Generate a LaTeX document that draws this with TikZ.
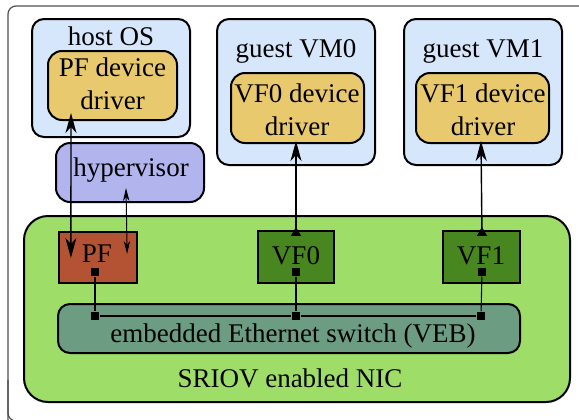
\documentclass[tikz,border=0pt]{standalone}
\usepackage{fontspec}
\setmainfont{Liberation Serif}
\usetikzlibrary{arrows.meta,fit,calc}
\definecolor{osblue}{RGB}{214,230,251}
\definecolor{drvyel}{RGB}{232,201,110}
\definecolor{hyplav}{RGB}{178,180,238}
\definecolor{nicgreen}{RGB}{158,222,104}
\definecolor{pfred}{RGB}{180,83,52}
\definecolor{vfgreen}{RGB}{72,135,32}
\definecolor{vebgreen}{RGB}{108,156,130}
\definecolor{framegray}{RGB}{80,80,80}
\begin{document}
\begin{tikzpicture}[x=0.5pt,y=-0.5pt,
  font=\fontsize{13.5}{16.5}\selectfont,
  box/.style={draw=black, line width=1pt, inner sep=0pt},
  osbox/.style={box, fill=osblue, rounded corners=6pt},
  drvbox/.style={box, fill=drvyel, rounded corners=7pt},
  fnbox/.style={box, line width=1.1pt},
  lbl/.style={inner sep=0pt, align=center},
  sq/.style={fill=black, minimum size=4.2pt, inner sep=0pt},
  wire/.style={line width=0.55pt},
  bus/.style={line width=1.1pt},
  bigtip/.style={line width=0.7pt, {Stealth[length=10pt,width=5.5pt,inset=3pt]}-{Stealth[length=10pt,width=5.5pt,inset=3pt]}},
  smalltip/.style={line width=0.5pt, {Stealth[length=6.5pt,width=3.2pt,inset=2pt]}-{Stealth[length=6.5pt,width=3.2pt,inset=2pt]}},
  vftip/.style={line width=0.7pt, {Triangle[reversed,length=4.5pt,width=5pt]}-{Stealth[length=10pt,width=5.5pt,inset=3pt]}}]
\useasboundingbox (0,0) rectangle (579,419);
\begin{scope}
\clip (0,0) rectangle (579,419);
\draw[framegray, line width=0.6pt, rounded corners=4pt] (8,440) -- (8,421) -- (8,6) -- (600,6);
\draw[framegray, line width=0.6pt, rounded corners=4pt] (8,380) -- (8,421) -- (20,421);
\end{scope}

% host side
\node[osbox, fit={(32,19) (190,137)}] (host) {};
\node[lbl] (hostlbl) at (111,36) {host OS};
\node[drvbox, fit={(48,51) (177,120)}] (pfdrv) {};
\node[lbl] (pfdrvlbl) at (112.5,84) {PF device\\driver};
\node[box, fill=hyplav, rounded corners=7pt, fit={(56,143) (204,202)}] (hyp) {};
\node[lbl] (hyplbl) at (131,170) {hypervisor};

% guests
\node[osbox, fit={(217,19) (375,165)}] (vm0) {};
\node[lbl] (vm0lbl) at (296,51) {guest VM0};
\node[drvbox, fit={(231,73) (364,143)}] (vf0drv) {};
\node[lbl] (vf0drvlbl) at (297,110) {VF0 device\\driver};
\node[osbox, fit={(404,19) (562,165)}] (vm1) {};
\node[lbl] (vm1lbl) at (483,51) {guest VM1};
\node[drvbox, fit={(416,73) (549,143)}] (vf1drv) {};
\node[lbl] (vf1drvlbl) at (483,110) {VF1 device\\driver};

% NIC
\node[box, fill=nicgreen, rounded corners=12pt, fit={(24,216) (570,402)}] (nic) {};
\node[lbl] (niclbl) at (290,378) {SRIOV enabled NIC};
\node[fnbox, fill=pfred, fit={(59,232) (137,283)}] (pf) {};
\node[lbl] (pflbl) at (97,254) {PF};
\node[fnbox, fill=vfgreen, fit={(258,231) (334,283)}] (vf0) {};
\node[lbl] (vf0lbl) at (296,256) {VF0};
\node[fnbox, fill=vfgreen, fit={(443,231) (520,283)}] (vf1) {};
\node[lbl] (vf1lbl) at (481,256) {VF1};
\node[box, fill=vebgreen, rounded corners=6pt, fit={(58,304) (520,353)}] (veb) {};
\node[lbl] (veblbl) at (293,336) {embedded Ethernet switch (VEB)};

% ports and bus
\node[sq] (pfs) at (95,272) {};
\node[sq] (vf0s) at (296,272) {};
\node[sq] (vf1s) at (482,272) {};
\node[sq] (pfj) at (95,316) {};
\node[sq] (vf0j) at (296,316) {};
\node[sq] (vf1j) at (481,316) {};
\draw[wire] (pfs) -- (pfj);
\draw[wire] (vf0s) -- (vf0j);
\draw[wire] (vf1s) -- (vf1j);
\draw[bus] (pfj) -- (vf0j) -- (vf1j);

% arrows
\draw[bigtip] ($(pfdrv.south west)+(24,-8)$) -- ($(pf.north west)+(13,27)$);
\draw[smalltip] ($(hyp.south)+(-4,-15)$) -- ($(pf.north east)+(-11,23)$);
\draw[vftip] ($(vf0.north)+(0,6)$) -- ($(vf0drv.south)+(-1.5,-3)$);
\draw[vftip] ($(vf1.north)+(0.5,6)$) -- ($(vf1drv.south)+(-1.5,-3)$);
\end{tikzpicture}
\end{document}
